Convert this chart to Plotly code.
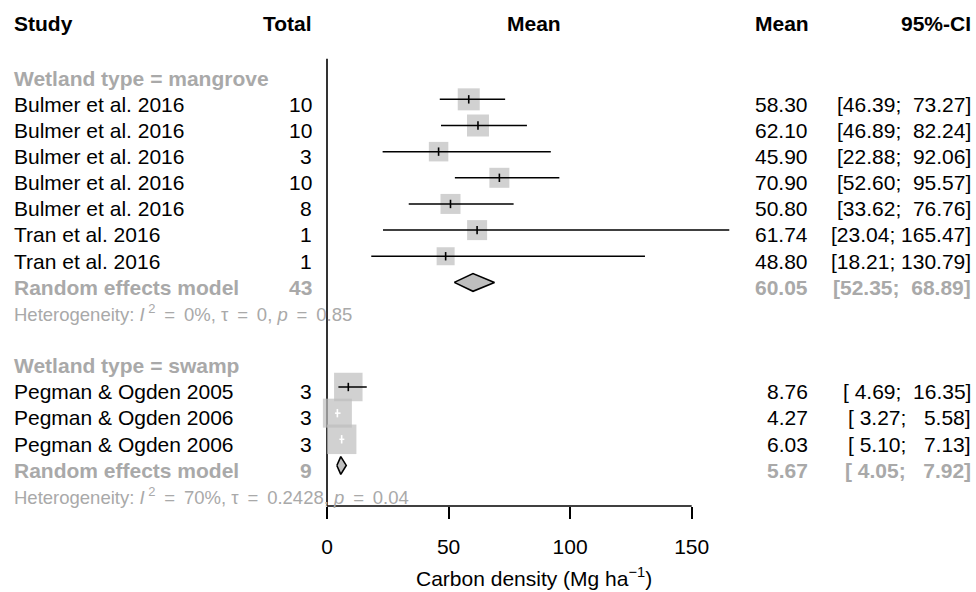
import plotly.graph_objects as go

# ---------------- data ----------------
mangrove_studies = ["Bulmer et al. 2016", "Bulmer et al. 2016", "Bulmer et al. 2016",
                    "Bulmer et al. 2016", "Bulmer et al. 2016", "Tran et al. 2016", "Tran et al. 2016"]
mangrove_total = [10, 10, 3, 10, 8, 1, 1]
mangrove_mean = [58.30, 62.10, 45.90, 70.90, 50.80, 61.74, 48.80]
mangrove_lower = [46.39, 46.89, 22.88, 52.60, 33.62, 23.04, 18.21]
mangrove_upper = [73.27, 82.24, 92.06, 95.57, 76.76, 165.47, 130.79]
mangrove_re = dict(total=43, mean=60.05, lower=52.35, upper=68.89)
mangrove_het = dict(i2="0%", tau="0", p="0.85")

swamp_studies = ["Pegman & Ogden 2005", "Pegman & Ogden 2006", "Pegman & Ogden 2006"]
swamp_total = [3, 3, 3]
swamp_mean = [8.76, 4.27, 6.03]
swamp_lower = [4.69, 3.27, 5.10]
swamp_upper = [16.35, 5.58, 7.13]
swamp_re = dict(total=9, mean=5.67, lower=4.05, upper=7.92)
swamp_het = dict(i2="70%", tau="0.2428", p="0.04")

groups = [
    dict(label="Wetland type = mangrove", studies=mangrove_studies, total=mangrove_total,
         mean=mangrove_mean, lower=mangrove_lower, upper=mangrove_upper,
         re=mangrove_re, het=mangrove_het),
    dict(label="Wetland type = swamp", studies=swamp_studies, total=swamp_total,
         mean=swamp_mean, lower=swamp_lower, upper=swamp_upper,
         re=swamp_re, het=swamp_het),
]

x_tick_values = [0, 50, 100, 150]
x_tick_labels = ["0", "50", "100", "150"]
x_title = "Carbon density (Mg ha<sup>\u22121</sup>)"
col_headers = ["Study", "Total", "Mean", "Mean", "95%-CI"]

# ---------------- style / layout ----------------
# square sizes (px) per study, in plotting order
box_sizes = [22, 22, 19.5, 20, 20, 20, 18, 28.5, 29, 29.5]

FONT = "Liberation Sans, Arial, Helvetica, sans-serif"
W, H = 976, 592
X0_PX, X150_PX = 327.0, 691.67
PXU = (X150_PX - X0_PX) / 150.0
ROW0_PX = 73.2
ROW_H = 26.15
PLOT_BOTTOM = 506
TEXT_DY = 4.8 / ROW_H
GREY_BOX = "#BEBEBE"
GREY_TXT = "#A9A9A9"
FS = 21
FS_HET = 18.5
TS = "\u2009"  # thin space (plotmath-like spacing around '=')

xrange = [-X0_PX / PXU, (W - X0_PX) / PXU]
yrange = [(PLOT_BOTTOM - ROW0_PX) / ROW_H, -ROW0_PX / ROW_H]


def xp(px):
    return px / W


def yp(px):
    return 1 - px / PLOT_BOTTOM


NB = "\u00a0"


def fmt_ci(lo, hi):
    return ("[" + f"{lo:5.2f}" + "; " + f"{hi:6.2f}" + "]").replace(" ", NB)


fig = go.Figure()
annotations = []


def add_text(text, xpx, y, anchor, color="black", size=FS, bold=False, yref="y"):
    if bold:
        text = "<b>" + text + "</b>"
    annotations.append(dict(text=text, x=xp(xpx), xref="paper", y=y, yref=yref,
                            xanchor=anchor, yanchor="middle", showarrow=False,
                            borderpad=0,
                            font=dict(family=FONT, size=size, color=color)))


# headers
hdr_y = yp(24)
add_text(col_headers[0], 12.7, hdr_y, "left", bold=True, yref="paper")
add_text(col_headers[1], 312.7, hdr_y, "right", bold=True, yref="paper")
add_text(col_headers[2], 534, hdr_y, "center", bold=True, yref="paper")
add_text(col_headers[3], 809.5, hdr_y, "right", bold=True, yref="paper")
add_text(col_headers[4], 972, hdr_y, "right", bold=True, yref="paper")

# reference line at 0
fig.add_trace(go.Scatter(x=[0, 0], y=[-0.55, yrange[0]], mode="lines",
                         line=dict(color="black", width=1.6), hoverinfo="skip"))

sq_x, sq_y, sq_s = [], [], []
ci_black_x, ci_black_y, ci_white_x, ci_white_y = [], [], [], []
tk_x, tk_y, tk_c = [], [], []
dia_traces = []

row = 0
si = 0
for g in groups:
    add_text(g["label"], 12.7, row + TEXT_DY, "left", color=GREY_TXT, bold=True)
    row += 1
    for name, tot, m, lo, hi in zip(g["studies"], g["total"], g["mean"], g["lower"], g["upper"]):
        s = box_sizes[si]
        si += 1
        sq_x.append(m); sq_y.append(row); sq_s.append(s)
        half = s / 2 / PXU
        inside = (lo >= m - half) and (hi <= m + half)
        if inside:
            ci_white_x += [lo, hi, None]; ci_white_y += [row, row, None]
            tk_c.append("white")
        else:
            ci_black_x += [lo, hi, None]; ci_black_y += [row, row, None]
            tk_c.append("black")
        tk_x.append(m); tk_y.append(row)
        add_text(name, 12.7, row + TEXT_DY, "left")
        add_text(str(tot), 312.7, row + TEXT_DY, "right")
        add_text(f"{m:.2f}", 808.5, row + TEXT_DY, "right")
        add_text(fmt_ci(lo, hi), 972, row + TEXT_DY, "right")
        row += 1
    re = g["re"]
    h = 0.34
    dia_traces.append(go.Scatter(
        x=[re["lower"], re["mean"], re["upper"], re["mean"], re["lower"]],
        y=[row, row - h, row, row + h, row], mode="lines", fill="toself",
        fillcolor=GREY_BOX, line=dict(color="black", width=1.6), hoverinfo="skip"))
    add_text("Random effects model", 12.7, row + TEXT_DY, "left", color=GREY_TXT, bold=True)
    add_text(str(re["total"]), 312.7, row + TEXT_DY, "right", color=GREY_TXT, bold=True)
    add_text(f"{re['mean']:.2f}", 808.5, row + TEXT_DY, "right", color=GREY_TXT, bold=True)
    add_text(fmt_ci(re["lower"], re["upper"]), 972, row + TEXT_DY, "right", color=GREY_TXT, bold=True)
    row += 1
    het = g["het"]
    eq = f" {TS}={TS} "
    het_txt = (f"Heterogeneity: <i>I</i>{TS}<sup>2</sup>{eq}{het['i2']}, \u03c4{eq}{het['tau']}, "
               f"<i>p</i>{eq}{het['p']}")
    add_text(het_txt, 12.7, row + TEXT_DY, "left", color=GREY_TXT, size=FS_HET)
    row += 2

fig.add_trace(go.Scatter(x=sq_x, y=sq_y, mode="markers",
                         marker=dict(symbol="square", size=sq_s, color=GREY_BOX,
                                     line=dict(width=0)), hoverinfo="skip"))
fig.add_trace(go.Scatter(x=ci_black_x, y=ci_black_y, mode="lines",
                         line=dict(color="black", width=1.5), hoverinfo="skip"))
fig.add_trace(go.Scatter(x=ci_white_x, y=ci_white_y, mode="lines",
                         line=dict(color="white", width=1.5), hoverinfo="skip"))
fig.add_trace(go.Scatter(x=tk_x, y=tk_y, mode="markers",
                         marker=dict(symbol="line-ns", size=6, color=tk_c,
                                     line=dict(color=tk_c, width=1.6)), hoverinfo="skip"))
for t in dia_traces:
    fig.add_trace(t)

# x axis title
add_text(x_title, 534, yp(577), "center", yref="paper")

fig.update_layout(
    width=W, height=H,
    margin=dict(l=0, r=0, t=0, b=H - PLOT_BOTTOM),
    paper_bgcolor="white", plot_bgcolor="white",
    showlegend=False,
    annotations=annotations,
    xaxis=dict(range=xrange, showgrid=False, zeroline=False, showline=False,
               tickmode="array", tickvals=x_tick_values, ticktext=x_tick_labels,
               ticks="outside", ticklen=12, tickwidth=1.6, tickcolor="black",
               ticklabelstandoff=10,
               tickfont=dict(family=FONT, size=FS, color="black"), fixedrange=True),
    yaxis=dict(range=yrange, visible=False, showgrid=False, zeroline=False, fixedrange=True),
    shapes=[dict(type="line", xref="x", yref="paper", x0=0, x1=150, y0=0, y1=0,
                 line=dict(color="black", width=1.6))],
)

fig.write_html("out.html")
